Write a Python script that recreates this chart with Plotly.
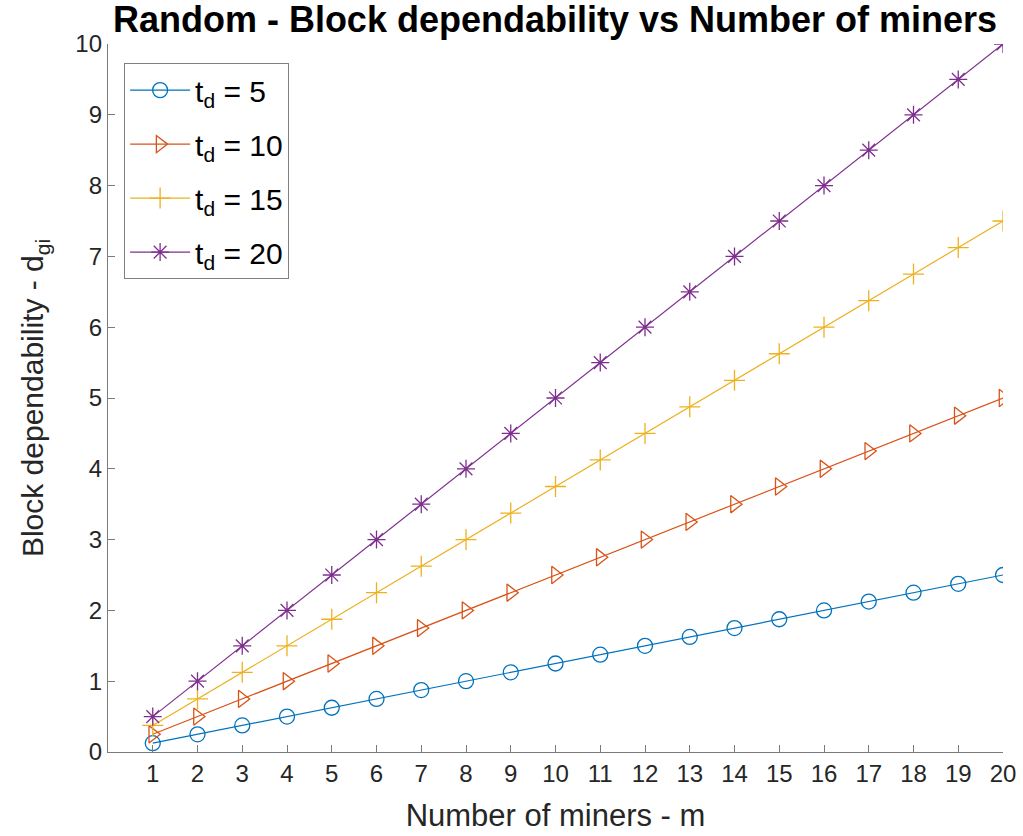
import plotly.graph_objects as go

miners = list(range(1, 21))
dep_td5 = [0.125, 0.25, 0.375, 0.5, 0.625, 0.75, 0.875, 1.0, 1.125, 1.25,
           1.375, 1.5, 1.625, 1.75, 1.875, 2.0, 2.125, 2.25, 2.375, 2.5]
dep_td10 = [0.25, 0.5, 0.75, 1.0, 1.25, 1.5, 1.75, 2.0, 2.25, 2.5,
            2.75, 3.0, 3.25, 3.5, 3.75, 4.0, 4.25, 4.5, 4.75, 5.0]
dep_td15 = [0.375, 0.75, 1.125, 1.5, 1.875, 2.25, 2.625, 3.0, 3.375, 3.75,
            4.125, 4.5, 4.875, 5.25, 5.625, 6.0, 6.375, 6.75, 7.125, 7.5]
dep_td20 = [0.5, 1.0, 1.5, 2.0, 2.5, 3.0, 3.5, 4.0, 4.5, 5.0,
            5.5, 6.0, 6.5, 7.0, 7.5, 8.0, 8.5, 9.0, 9.5, 10.0]
y_ticks = list(range(0, 11))

series = [
    ("t<sub>d</sub> = 5", dep_td5, "#0072BD", "circle-open"),
    ("t<sub>d</sub> = 10", dep_td10, "#D95319", "triangle-right-open"),
    ("t<sub>d</sub> = 15", dep_td15, "#EDB120", "cross-thin-open"),
    ("t<sub>d</sub> = 20", dep_td20, "#7E2F8E", "asterisk-open"),
]

fig = go.Figure()
for i, (name, vals, color, sym) in enumerate(series):
    fig.add_trace(go.Scatter(
        x=miners, y=vals, name=name, mode="lines+markers",
        legendgroup=f"g{i}",
        line=dict(color=color, width=1.2),
        marker=dict(symbol=sym, size=15, color=color,
                    line=dict(color=color, width=1.3)),
    ))

font = "Liberation Sans, Arial, Helvetica, sans-serif"
axis_color = "#7a7a7a"
text_color = "#262626"

fig.update_layout(
    width=1023, height=836,
    margin=dict(l=108, r=20, t=44, b=84),
    paper_bgcolor="white", plot_bgcolor="white",
    font=dict(family=font, color=text_color),
    title=dict(text="<b>Random - Block dependability vs Number of miners</b>",
               x=0.5425, xanchor="center", y=0.977, yanchor="middle",
               font=dict(size=36, color="black")),
    legend=dict(x=0.018, y=0.973, xanchor="left", yanchor="top",
                bgcolor="white", bordercolor="#808080", borderwidth=1,
                font=dict(size=30, color="black"), tracegroupgap=12,
                itemwidth=60),
    showlegend=True,
)

fig.update_xaxes(
    range=[0, 20], tickvals=miners, ticktext=[str(m) for m in miners],
    ticks="inside", ticklen=7, tickcolor=axis_color,
    showline=True, linecolor=axis_color, linewidth=1.3,
    showgrid=False, zeroline=False, automargin=False,
    tickfont=dict(size=24, color=text_color),
    title=dict(text="Number of miners - m", font=dict(size=31, color=text_color),
               standoff=18),
)
fig.update_yaxes(
    range=[0, 10], tickvals=y_ticks,
    ticks="inside", ticklen=7, tickcolor=axis_color,
    showline=True, linecolor=axis_color, linewidth=1.3,
    showgrid=False, zeroline=False, automargin=False,
    tickfont=dict(size=24, color=text_color),
    title=dict(text="Block dependability - d<sub>gi</sub>",
               font=dict(size=30, color=text_color), standoff=22),
)

fig.write_html("out.html")
